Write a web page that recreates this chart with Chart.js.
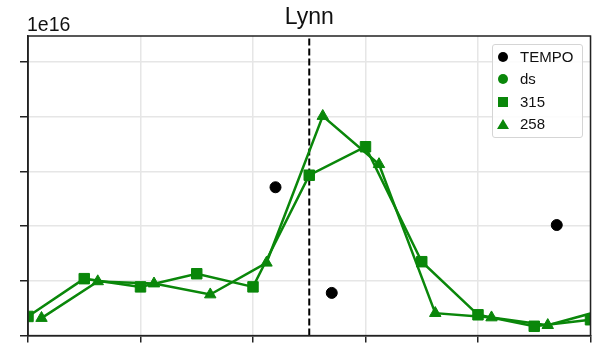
<!DOCTYPE html>
<html><head><meta charset="utf-8">
<script src="https://cdn.jsdelivr.net/npm/chart.js@4"></script>
<style>
html,body{margin:0;padding:0;background:#fff;}
#wrap{position:relative;width:605px;height:344px;overflow:hidden;}
#c{position:absolute;left:0;top:0;}
#legend{position:absolute;left:492px;top:44px;width:91px;height:94px;box-sizing:border-box;border:1px solid #d5d5d5;border-radius:3px;background:rgba(255,255,255,0.85);font-family:"Liberation Sans",Arial,sans-serif;font-size:15px;color:#111;}
.row{position:absolute;left:0;width:89px;height:20px;line-height:20px;}
.mk{position:absolute;}
.lbl{position:absolute;left:27px;top:0;white-space:nowrap;}
</style></head>
<body>
<div id="wrap"><canvas id="c" width="605" height="344"></canvas><div id="legend"></div></div>
<script>
// ---- data (y values in units of 1e16) ----
const TITLE = 'Lynn';
const OFFSET_LABEL = '1e16';
const SERIES_NAMES = ['TEMPO', 'ds', '315', '258'];
const X_TEMPO = [2.2, 2.7, 4.7];
const Y_TEMPO = [2.71, 0.78, 2.02];
const X_DS = [];
const Y_DS = [];
const X_315 = [0, 0.5, 1, 1.5, 2, 2.5, 3, 3.5, 4, 4.5, 5];
const Y_315 = [0.35, 1.04, 0.89, 1.13, 0.89, 2.93, 3.45, 1.35, 0.38, 0.17, 0.29];
const X_258 = [0.12, 0.62, 1.12, 1.62, 2.12, 2.62, 3.12, 3.62, 4.12, 4.62, 5.12];
const Y_258 = [0.32, 0.99, 0.95, 0.75, 1.33, 4.01, 3.13, 0.41, 0.33, 0.19, 0.47];
const VLINE_X = 2.5;
const X_MIN = 0, X_MAX = 5, X_STEP = 1;
const Y_MIN = 0, Y_MAX = 5.473, Y_STEP = 1;

const GREEN = '#0a870a';
const pts = (xs, ys) => xs.map((x, i) => ({x: x, y: ys[i]}));

const datasets = [
  {label: SERIES_NAMES[0], data: pts(X_TEMPO, Y_TEMPO), pointStyle: 'circle', pointRadius: 5.5,
   backgroundColor: '#000', borderColor: '#000', pointBorderWidth: 1, showLine: false, clip: 0},
  {label: SERIES_NAMES[1], data: pts(X_DS, Y_DS), pointStyle: 'circle', pointRadius: 5.5,
   backgroundColor: GREEN, borderColor: GREEN, showLine: false, clip: 0},
  {label: SERIES_NAMES[2], data: pts(X_315, Y_315), pointStyle: 'rect', pointRadius: 7.4,
   backgroundColor: GREEN, borderColor: GREEN, pointBorderWidth: 1, borderWidth: 2.5, showLine: true, clip: 0},
  {label: SERIES_NAMES[3], data: pts(X_258, Y_258), pointStyle: 'triangle', pointRadius: 6.6,
   backgroundColor: GREEN, borderColor: GREEN, pointBorderWidth: 1, borderWidth: 2.5, showLine: true, clip: 0},
  {label: 'vline', data: [{x: VLINE_X, y: Y_MIN}, {x: VLINE_X, y: Y_MAX}], pointRadius: 0,
   borderColor: '#000', borderWidth: 2, borderDash: [7, 3], showLine: true, clip: 0}
];

const framePlugin = {
  id: 'frame',
  afterDatasetsDraw(chart) {
    const {ctx, chartArea: a} = chart;
    ctx.save();
    ctx.strokeStyle = '#222';
    ctx.lineWidth = 1.5;
    ctx.strokeRect(a.left, a.top, a.right - a.left, a.bottom - a.top);
    ctx.restore();
  },
  afterDraw(chart) {
    const {ctx, chartArea: a} = chart;
    ctx.save();
    ctx.fillStyle = '#111';
    ctx.textBaseline = 'alphabetic';
    ctx.font = '23px "Liberation Sans", Arial, sans-serif';
    ctx.textAlign = 'center';
    ctx.fillText(TITLE, (a.left + a.right) / 2, 24);
    ctx.font = '19.5px "Liberation Sans", Arial, sans-serif';
    ctx.textAlign = 'left';
    ctx.fillText(OFFSET_LABEL, a.left - 1, 31);
    ctx.restore();
  }
};

new Chart(document.getElementById('c'), {
  type: 'scatter',
  data: {datasets: datasets},
  options: {
    responsive: false, animation: false, devicePixelRatio: 1,
    layout: {padding: {left: 0, right: 14.5, top: 36, bottom: 0}},
    plugins: {legend: {display: false}, tooltip: {enabled: false}},
    scales: {
      x: {type: 'linear', min: X_MIN, max: X_MAX,
          ticks: {display: false, stepSize: X_STEP},
          grid: {color: '#e6e6e6', lineWidth: 1.5, tickColor: '#222', tickWidth: 1.5, tickLength: 7},
          border: {color: '#222', width: 1.5},
          afterFit: s => { s.height = 6.5; }},
      y: {type: 'linear', min: Y_MIN, max: Y_MAX,
          ticks: {display: false, stepSize: Y_STEP, includeBounds: false},
          grid: {color: '#e6e6e6', lineWidth: 1.5, tickColor: '#222', tickWidth: 1.5, tickLength: 8},
          border: {color: '#222', width: 1.5},
          afterFit: s => { s.width = 28; }}
    }
  },
  plugins: [framePlugin]
});

// HTML legend built from the datasets
const legend = document.getElementById('legend');
const rowTops = [2, 24, 47, 69];
datasets.slice(0, 4).forEach((d, i) => {
  const row = document.createElement('div');
  row.className = 'row';
  row.style.top = rowTops[i] + 'px';
  const mk = document.createElement('div');
  mk.className = 'mk';
  const col = d.backgroundColor;
  if (d.pointStyle === 'circle') {
    Object.assign(mk.style, {left: '5px', top: '5px', width: '10px', height: '10px', borderRadius: '50%', background: col});
  } else if (d.pointStyle === 'rect') {
    Object.assign(mk.style, {left: '5px', top: '5px', width: '10px', height: '10px', background: col});
  } else {
    Object.assign(mk.style, {left: '4px', top: '5px', width: '0', height: '0',
      borderLeft: '6px solid transparent', borderRight: '6px solid transparent', borderBottom: '10px solid ' + col});
  }
  const lbl = document.createElement('span');
  lbl.className = 'lbl';
  lbl.textContent = d.label;
  row.appendChild(mk);
  row.appendChild(lbl);
  legend.appendChild(row);
});
</script>
</body></html>
